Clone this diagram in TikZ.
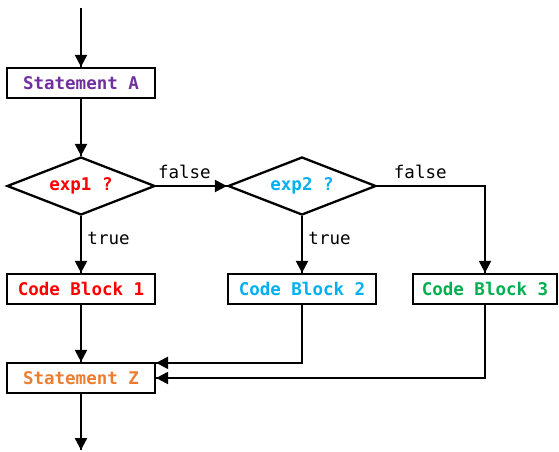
\documentclass[tikz,border=0pt]{standalone}
\usepackage{fontspec}
\setmonofont{DejaVu Sans Mono}
\usetikzlibrary{arrows.meta}
\usetikzlibrary{decorations.markings}
\usetikzlibrary{shapes.geometric}
\tikzset{->/.style = {decoration={markings,
                                  mark=at position 1 with {\arrow{Triangle[length=12pt,width=12pt]}}},
                      postaction={decorate}}}
\definecolor{mpurple}{RGB}{112,48,160}
\definecolor{mred}{RGB}{255,0,0}
\definecolor{mcyan}{RGB}{0,176,240}
\definecolor{mgreen}{RGB}{0,176,80}
\definecolor{morange}{RGB}{237,125,49}

\begin{document}
\begin{tikzpicture}[x=1pt, y=-1pt, line width=2.3pt,
    box/.style = {draw, rectangle, minimum width=148pt, minimum height=30pt, inner sep=0pt,
                  font=\ttfamily\bfseries\fontsize{17.5}{20}\selectfont},
    test/.style = {draw, diamond, aspect=2.55, minimum width=148pt, minimum height=58pt, inner sep=0pt,
                   font=\ttfamily\bfseries\fontsize{17.5}{20}\selectfont},
    lbl/.style = {font=\ttfamily\fontsize{17.5}{20}\selectfont}]
    \useasboundingbox (0, 0) rectangle (559, 452);

    \node [box, text=mpurple] (stA) at (81, 83) {Statement A};
    \node [test, text=mred] (exp1) at (81, 186) {exp1 ?};
    \node [test, text=mcyan] (exp2) at (302, 186) {exp2 ?};
    \node [box, text=mred] (blk1) at (81, 289) {Code Block 1};
    \node [box, text=mcyan] (blk2) at (302, 289) {Code Block 2};
    \node [box, text=mgreen, minimum width=144pt] (blk3) at (485, 289) {Code Block 3};
    \node [box, text=morange] (stZ) at (81, 378) {Statement Z};
    \coordinate (in) at (81, 8);
    \coordinate (out) at (81, 450);

    \draw [->] (in) -- (stA);
    \draw [->] (stA) -- (exp1);
    \draw [->] (exp1) -- node [lbl, above, pos=0.4, yshift=3pt] {false} (exp2);
    \draw [->] (exp1) -- node [lbl, right, pos=0.4, xshift=2pt] {true} (blk1);
    \draw [->] (exp2) -- node [lbl, right, pos=0.4, xshift=2pt] {true} (blk2);
    \draw [->] (exp2.east) -| node [lbl, above, pos=0.2, yshift=3pt] {false} (blk3);
    \draw [->] (blk1) -- (stZ);
    \draw [->] (blk2) |- ([yshift=-1pt]stZ.north east);
    \draw [->] (blk3) |- (stZ);
    \draw [->] (stZ) -- (out);
\end{tikzpicture}
\end{document}
